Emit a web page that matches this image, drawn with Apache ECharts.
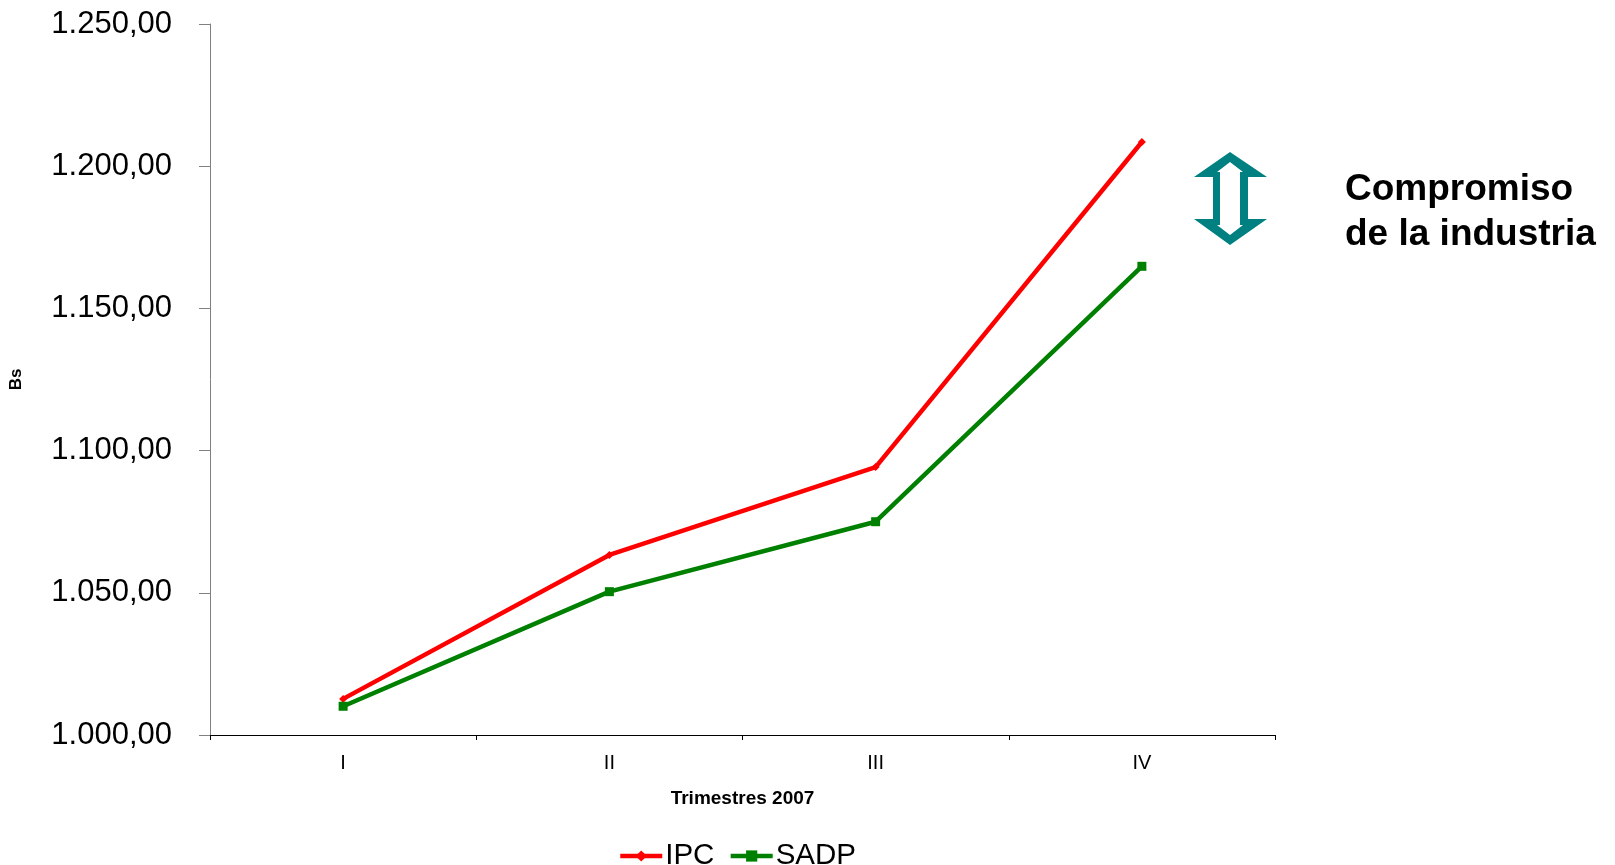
<!DOCTYPE html>
<html>
<head>
<meta charset="utf-8">
<script src="https://cdn.jsdelivr.net/npm/echarts@6/dist/echarts.min.js"></script>
<style>
  html, body { margin: 0; padding: 0; background: #fff; }
  #chart { width: 1615px; height: 865px; }
</style>
</head>
<body>
<div id="chart"></div>
<script>
// 数据
var categories = ['I', 'II', 'III', 'IV'];
var ipcValues = [1012.7, 1063.3, 1094.2, 1208.5];
var sadpValues = [1010.1, 1050.4, 1075.0, 1164.8];
var yTicks = { min: 1000, max: 1250, interval: 50 };

// 1250 -> "1.250,00"
function fmtEs(v) {
  var parts = v.toFixed(2).split('.');
  parts[0] = parts[0].replace(/\B(?=(\d{3})+(?!\d))/g, '.');
  return parts[0] + ',' + parts[1];
}

var chart = echarts.init(document.getElementById('chart'));

var option = {
  animation: false,
  grid: {
    left: 209,
    right: 340,
    top: 24,
    bottom: 130
  },
  legend: {
    data: ['IPC', 'SADP'],
    left: 613,
    top: 836,
    itemWidth: 42,
    itemHeight: 14,
    itemGap: 14,
    lineStyle: { width: 4.5 },
    textStyle: {
      fontFamily: 'Liberation Sans, Arial, sans-serif',
      fontSize: 29.5,
      color: '#000',
      padding: [0, 0, 0, -2]
    }
  },
  xAxis: {
    type: 'category',
    data: categories,
    boundaryGap: true,
    name: 'Trimestres 2007',
    nameLocation: 'middle',
    nameGap: 54,
    nameTextStyle: {
      fontFamily: 'Liberation Sans, Arial, sans-serif',
      fontWeight: 'bold',
      fontSize: 19,
      color: '#000'
    },
    axisLine: { lineStyle: { color: '#000', width: 1 } },
    axisTick: { show: true, length: 5, lineStyle: { color: '#000' } },
    axisLabel: {
      fontFamily: 'Liberation Sans Narrow, Liberation Sans, Arial, sans-serif',
      fontSize: 20,
      color: '#000',
      margin: 18
    },
    splitLine: { show: false }
  },
  yAxis: {
    type: 'value',
    min: yTicks.min,
    max: yTicks.max,
    interval: yTicks.interval,
    name: 'Bs',
    nameLocation: 'middle',
    nameGap: 185,
    nameRotate: 90,
    nameTextStyle: {
      fontFamily: 'Liberation Sans, Arial, sans-serif',
      fontWeight: 'bold',
      fontSize: 17,
      color: '#000'
    },
    axisLine: { show: true, lineStyle: { color: '#808080', width: 1 } },
    axisTick: { show: true, length: 11, lineStyle: { color: '#808080' } },
    axisLabel: {
      formatter: fmtEs,
      fontFamily: 'Liberation Sans, Arial, sans-serif',
      fontSize: 31,
      color: '#000',
      margin: 38
    },
    splitLine: { show: false }
  },
  series: [
    {
      name: 'IPC',
      type: 'line',
      data: ipcValues,
      color: '#FF0000',
      lineStyle: { width: 4.5, color: '#FF0000' },
      symbol: 'diamond',
      symbolSize: 8,
      itemStyle: { color: '#FF0000' }
    },
    {
      name: 'SADP',
      type: 'line',
      data: sadpValues,
      color: '#008000',
      lineStyle: { width: 4.5, color: '#008000' },
      symbol: 'rect',
      symbolSize: 9,
      itemStyle: { color: '#008000' }
    }
  ],
  graphic: {
    elements: [
      {
        // 双向箭头
        type: 'polygon',
        shape: {
          points: [[1230, 152], [1267, 177], [1248, 177], [1248, 219], [1267, 219],
                   [1230, 245], [1194, 219], [1213, 219], [1213, 177], [1194, 177]]
        },
        style: { fill: '#008080' }
      },
      {
        type: 'polygon',
        shape: {
          points: [[1230, 162], [1243, 172], [1240, 172], [1240, 225], [1243, 225],
                   [1230, 235], [1217, 225], [1220, 225], [1220, 172], [1217, 172]]
        },
        style: { fill: '#ffffff' }
      },
      {
        type: 'text',
        left: 1345,
        top: 167,
        style: {
          text: 'Compromiso\nde la industria',
          fill: '#000',
          font: 'bold 37px "Liberation Sans", Arial, sans-serif',
          lineHeight: 45
        }
      }
    ]
  }
};

chart.setOption(option);
window.addEventListener('resize', function () {
  chart.resize();
});
</script>
</body>
</html>
